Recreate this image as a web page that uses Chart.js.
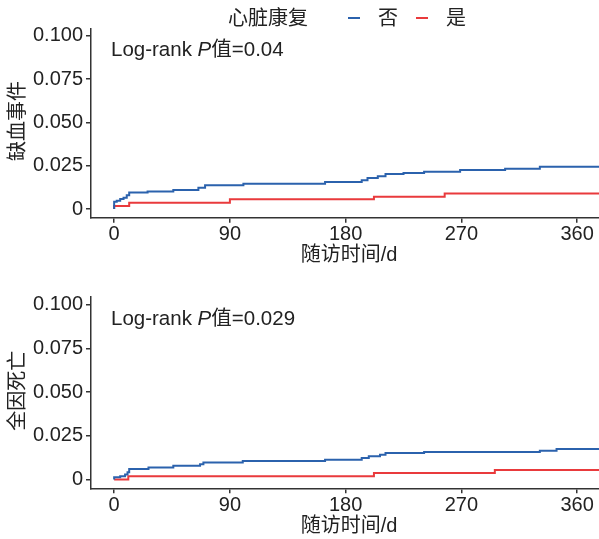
<!DOCTYPE html>
<html>
<head>
<meta charset="utf-8">
<script src="https://cdn.jsdelivr.net/npm/chart.js@4.4.1/dist/chart.umd.min.js"></script>
<style>
  html, body { margin: 0; padding: 0; background: #fff; }
  #wrap { position: relative; width: 599px; height: 539px; }
  .panel { position: absolute; left: 0; width: 599px; height: 270px; }
</style>
</head>
<body>
<div id="wrap">
  <div class="panel" style="top:0"><canvas id="topChart" width="599" height="270"></canvas></div>
  <div class="panel" style="top:269px"><canvas id="bottomChart" width="599" height="270"></canvas></div>
</div>
<script>
// axis ticks
const xTicks = [0, 90, 180, 270, 360];
const yTicks = [0, 0.025, 0.05, 0.075, 0.1];
const yTickLabels = ['0', '0.025', '0.050', '0.075', '0.100'];
const groupLabels = ['否', '是'];
const legendTitle = '心脏康复';
const xTitle = '随访时间/d';

// 缺血事件 (cumulative incidence, step curves)
const ischemiaNoDays  = [0, 0, 2, 4.7, 7.3, 9.8, 11.7, 26, 46, 65.5, 70.7, 100.5, 164, 192.5, 197, 205, 211, 225, 241, 269, 304, 331, 377];
const ischemiaNoRate  = [0, 0.0042, 0.0048, 0.0058, 0.0065, 0.008, 0.0096, 0.0102, 0.011, 0.0123, 0.0137, 0.0146, 0.0156, 0.0167, 0.0179, 0.019, 0.0202, 0.0208, 0.0215, 0.0225, 0.0233, 0.0244, 0.0244];
const ischemiaYesDays = [0, 0, 11.7, 90, 202, 257, 377];
const ischemiaYesRate = [0, 0.0017, 0.0037, 0.0056, 0.0071, 0.009, 0.009];

// 全因死亡
const deathNoDays  = [0, 0, 4.7, 8.5, 10.4, 11.7, 26.7, 46, 66.8, 69.4, 100, 164, 192.5, 198, 206.7, 211, 241, 331, 344, 377];
const deathNoRate  = [0, 0.0013, 0.0019, 0.0029, 0.0042, 0.006, 0.0069, 0.0079, 0.0088, 0.0098, 0.0106, 0.0113, 0.0123, 0.0133, 0.0142, 0.0152, 0.0158, 0.0165, 0.0175, 0.0175];
const deathYesDays = [0, 11, 202, 296, 377];
const deathYesRate = [0, 0.0019, 0.0038, 0.0054, 0.0054];

const FONT = "'Liberation Sans', Arial, 'Noto Sans CJK SC', sans-serif";
const BLUE = '#2b62ad';
const RED = '#e93a3c';
const AXIS = '#333';

function toPoints(days, rates) {
  return days.map((d, i) => ({ x: d, y: rates[i] }));
}

// draws axis titles, log-rank text and (optionally) the legend
const decorPlugin = {
  id: 'decor',
  afterDraw(chart, args, opts) {
    const ctx = chart.ctx;
    const a = chart.chartArea;
    ctx.save();
    ctx.fillStyle = '#222';
    ctx.font = '20px ' + FONT;

    // y title
    ctx.save();
    ctx.translate(18, (a.top + a.bottom) / 2 - 2);
    ctx.rotate(-Math.PI / 2);
    ctx.textAlign = 'center';
    ctx.textBaseline = 'middle';
    ctx.fillText(opts.yTitle, 0, 0);
    ctx.restore();

    // x title
    ctx.textAlign = 'center';
    ctx.textBaseline = 'middle';
    ctx.fillText(xTitle, 349, opts.xTitleY);

    // log-rank text with italic P
    ctx.textAlign = 'left';
    ctx.textBaseline = 'alphabetic';
    let x = 111;
    const y = opts.pY;
    const sz = '20.5px ';
    ctx.font = sz + FONT;
    ctx.fillText('Log-rank ', x, y);
    x += ctx.measureText('Log-rank ').width;
    ctx.font = 'italic ' + sz + FONT;
    ctx.fillText('P', x, y);
    x += ctx.measureText('P').width;
    ctx.font = sz + FONT;
    ctx.fillText('值=' + opts.pValue, x, y);

    // legend
    if (opts.legend) {
      ctx.font = '20px ' + FONT;
      ctx.textBaseline = 'middle';
      ctx.fillText(legendTitle, 228, 19);
      const items = [{ c: BLUE, x: 348 }, { c: RED, x: 416 }];
      items.forEach((it, i) => {
        ctx.strokeStyle = it.c;
        ctx.lineWidth = 2;
        ctx.beginPath();
        ctx.moveTo(it.x, 18);
        ctx.lineTo(it.x + 12, 18);
        ctx.stroke();
        ctx.fillText(groupLabels[i], it.x + 30, 19);
      });
    }
    ctx.restore();
  }
};

function makeChart(id, noPts, yesPts, topPad, bottomEdge, decor) {
  return new Chart(document.getElementById(id), {
    type: 'line',
    data: {
      datasets: [
        { label: groupLabels[0], data: noPts, borderColor: BLUE, borderWidth: 2, stepped: true, pointRadius: 0, fill: false },
        { label: groupLabels[1], data: yesPts, borderColor: RED, borderWidth: 2, stepped: true, pointRadius: 0, fill: false }
      ]
    },
    options: {
      responsive: false,
      animation: false,
      layout: { padding: { top: topPad, left: 0, right: 0, bottom: 0 } },
      plugins: { legend: { display: false }, tooltip: { enabled: false }, decor: decor },
      scales: {
        x: {
          type: 'linear', min: -18, max: 377,
          afterBuildTicks: s => { s.ticks = xTicks.map(v => ({ value: v })); },
          afterFit: s => { s.height = 270 - bottomEdge; },
          grid: { drawOnChartArea: false, drawTicks: true, tickLength: 5, color: AXIS, lineWidth: 1.5 },
          border: { display: true, color: AXIS, width: 1.5 },
          ticks: { font: { size: 20, family: FONT }, color: '#222', padding: 0, maxRotation: 0, callback: v => String(v) }
        },
        y: {
          type: 'linear', min: -0.005, max: 0.1043,
          afterBuildTicks: s => { s.ticks = yTicks.map(v => ({ value: v })); },
          afterFit: s => { s.width = 91; },
          grid: { drawOnChartArea: false, drawTicks: true, tickLength: 5, color: AXIS, lineWidth: 1.5 },
          border: { display: true, color: AXIS, width: 1.5 },
          ticks: { font: { size: 20, family: FONT }, color: '#222', padding: 3, callback: (v, i) => yTickLabels[i] }
        }
      }
    },
    plugins: [decorPlugin]
  });
}

makeChart('topChart',
  toPoints(ischemiaNoDays, ischemiaNoRate),
  toPoints(ischemiaYesDays, ischemiaYesRate),
  28.5, 217.7,
  { yTitle: '缺血事件', pValue: '0.04', pY: 56, xTitleY: 255, legend: true });

makeChart('bottomChart',
  toPoints(deathNoDays, deathNoRate),
  toPoints(deathYesDays, deathYesRate),
  28, 219.3,
  { yTitle: '全因死亡', pValue: '0.029', pY: 56, xTitleY: 257, legend: false });
</script>
</body>
</html>
